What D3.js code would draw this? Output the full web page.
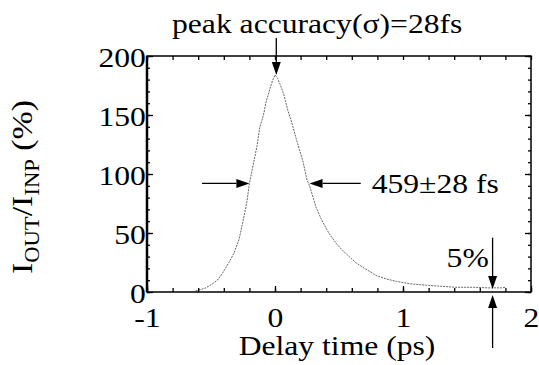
<!DOCTYPE html>
<html>
<head>
<meta charset="utf-8">
<script src="https://cdn.jsdelivr.net/npm/d3@7"></script>
<style>
  body { margin: 0; background: #fff; }
  svg, svg text { display: block; font-family: "Liberation Serif", "Times New Roman", serif; }
</style>
</head>
<body>
<div id="chart"></div>
<script>
// delay time (ps) and I_OUT/I_INP (%)
const delay = [-0.62, -0.55, -0.5, -0.45, -0.41, -0.36, -0.32, -0.28, -0.25, -0.22, -0.2, -0.17,
  -0.14, -0.12, -0.09, -0.07, -0.04, -0.02, 0, 0.02, 0.04, 0.07, 0.1, 0.13, 0.16, 0.19, 0.22,
  0.25, 0.27, 0.32, 0.36, 0.42, 0.48, 0.53, 0.58, 0.63, 0.7, 0.79, 0.87, 0.95, 1.05, 1.15,
  1.28, 1.41, 1.55, 1.67, 1.77, 1.8];
const ratio = [1, 3, 6, 10, 16, 25, 33, 45, 60, 76, 92, 108,
  124, 139, 150, 161, 172, 179, 184, 181, 176, 167, 154, 144, 132, 121, 110,
  95, 90, 72, 62, 50, 41, 35, 30, 25, 20, 14, 11, 9, 7, 6,
  5, 4, 4, 3.5, 3.5, 4];

const xTickLabels = [-1, 0, 1, 2];
const xMinorTicks = d3.range(-1, 2.01, 0.2);
const yTickLabels = [0, 50, 100, 150, 200];
const yMinorTicks = d3.range(0, 201, 10);

const width = 539, height = 365;
const sx = 1.13; // scan is stretched sideways a little

const x = d3.scaleLinear().domain([-1, 2]).range([147, 531]);
const y = d3.scaleLinear().domain([0, 200]).range([292, 56]);

const svg = d3.select('#chart').append('svg')
  .attr('width', width).attr('height', height);

function label(px, py, anchor, size) {
  return svg.append('text')
    .attr('transform', 'translate(' + px + ',' + py + ') scale(' + sx + ',1)')
    .attr('text-anchor', anchor)
    .attr('font-size', size);
}

// curve
const line = d3.line().x((d, i) => x(delay[i])).y(d => y(d));
svg.append('path')
  .attr('d', line(ratio))
  .attr('fill', 'none')
  .attr('stroke', '#666')
  .attr('stroke-width', 1)
  .attr('stroke-dasharray', '2,1');

// axes, ticks pointing in
function styleAxis(g) {
  g.attr('font-family', null);
  g.select('.domain').remove();
  g.selectAll('line').attr('stroke', '#000').attr('stroke-width', 1.3);
}
svg.append('g').attr('transform', 'translate(0,' + y(0) + ')')
  .call(d3.axisBottom(x).tickValues(xMinorTicks).tickSize(-4).tickFormat(''))
  .call(styleAxis);
svg.append('g').attr('transform', 'translate(0,' + y(200) + ')')
  .call(d3.axisTop(x).tickValues(xMinorTicks).tickSize(-4).tickFormat(''))
  .call(styleAxis);
svg.append('g').attr('transform', 'translate(' + x(-1) + ',0)')
  .call(d3.axisLeft(y).tickValues(yMinorTicks).tickSize(-3).tickFormat(''))
  .call(styleAxis);
svg.append('g').attr('transform', 'translate(' + x(2) + ',0)')
  .call(d3.axisRight(y).tickValues(yMinorTicks).tickSize(-3).tickFormat(''))
  .call(styleAxis);

const xAxis = svg.append('g').attr('transform', 'translate(0,' + y(0) + ')')
  .call(d3.axisBottom(x).tickValues(xTickLabels).tickSize(-6).tickFormat(d => String(d)));
xAxis.call(styleAxis);
xAxis.selectAll('text')
  .attr('y', 35).attr('dy', 0)
  .attr('transform', 'scale(' + sx + ',1)')
  .attr('font-size', 28).attr('fill', '#000');

const yAxis = svg.append('g').attr('transform', 'translate(' + x(-1) + ',0)')
  .call(d3.axisLeft(y).tickValues(yTickLabels).tickSize(-6).tickFormat(d => String(d)));
yAxis.call(styleAxis);
yAxis.selectAll('text')
  .attr('x', -1).attr('dy', 0).attr('y', 10)
  .attr('transform', 'scale(' + sx + ',1)')
  .attr('font-size', 28).attr('fill', '#000');

svg.append('g').call(d3.axisRight(y).tickValues(yTickLabels).tickSize(-6).tickFormat(''))
  .attr('transform', 'translate(' + x(2) + ',0)').call(styleAxis);

// frame
svg.append('rect')
  .attr('x', x(-1)).attr('y', y(200))
  .attr('width', x(2) - x(-1)).attr('height', y(0) - y(200))
  .attr('fill', 'none').attr('stroke', '#000').attr('stroke-width', 1.5);
svg.append('line')
  .attr('x1', x(-1)).attr('x2', x(-1)).attr('y1', y(200)).attr('y2', y(0))
  .attr('stroke', '#000').attr('stroke-width', 2.5);

// arrows
function arrow(x1, y1, x2, y2) {
  const ang = Math.atan2(y2 - y1, x2 - x1);
  const len = 13, half = 4.5;
  const bx = x2 - len * Math.cos(ang), by = y2 - len * Math.sin(ang);
  svg.append('line')
    .attr('x1', x1).attr('y1', y1).attr('x2', bx).attr('y2', by)
    .attr('stroke', '#000').attr('stroke-width', 1.3);
  svg.append('path')
    .attr('d', 'M' + x2 + ',' + y2 +
      'L' + (bx + half * Math.sin(ang)) + ',' + (by - half * Math.cos(ang)) +
      'L' + (bx - half * Math.sin(ang)) + ',' + (by + half * Math.cos(ang)) + 'Z')
    .attr('fill', '#000');
}
arrow(x(0.01), 38, x(0.01), y(184));
arrow(x(-0.57), y(92), x(-0.2), y(92));
arrow(x(0.67), y(92), x(0.27), y(92));
arrow(x(1.7), y(46), x(1.7), y(2.5));
arrow(x(1.7), 348, x(1.7), y(-2.5));

// texts
label(172, 33, 'start', 28).text('peak accuracy(\u03c3)=28fs');
label(x(0.755), y(92) + 10, 'start', 28).text('459\u00b128 fs');
label(x(1.67), 267, 'end', 28).text('5%');
label(337, 355, 'middle', 28).text('Delay time (ps)');

const yTitle = svg.append('text')
  .attr('transform', 'translate(32,187) rotate(-90) scale(' + sx + ',1)')
  .attr('text-anchor', 'middle')
  .attr('font-size', 30);
yTitle.append('tspan').text('I');
yTitle.append('tspan').attr('font-size', 20).attr('dy', 7).text('OUT');
yTitle.append('tspan').attr('dy', -7).text('/I');
yTitle.append('tspan').attr('font-size', 20).attr('dy', 7).text('INP');
yTitle.append('tspan').attr('dy', -7).text(' (%)');
</script>
</body>
</html>
